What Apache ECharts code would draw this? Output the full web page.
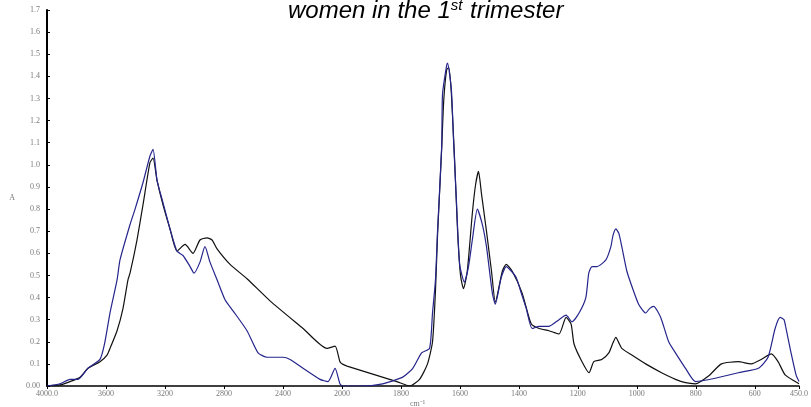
<!DOCTYPE html>
<html>
<head>
<meta charset="utf-8">
<script src="https://cdn.jsdelivr.net/npm/echarts@6/dist/echarts.min.js"></script>
<style>
html,body{margin:0;padding:0;background:#fff;}
#chart{width:811px;height:407px;}
</style>
</head>
<body>
<div id="chart"></div>
<script>
// Wavenumbers (cm-1) and absorbance values
const blackWavenumber = [4000,3912,3844,3776,3722,3641,3593,3573,3525,3485,3451,3437,3390,3349,3302,3281,3254,3214,3166,3119,3064,3010,2963,2915,2881,2847,2759,2644,2488,2264,2102,2047,2014,2000,
  1983,1814,1770,1737,1710,1693,1683,1676,1662,1655,1645,1638,1629,1618,1608,1598,1588,1575,1558,1547,1537,1527,1510,1493,1480,1456,1443,1423,1389,1358,1331,1298,1264,1240,1223,1213,1186,1162,1146,1119,1095,1081,1071,1061,1051,1017,970,916,869,835,801,757,713,656,612,578,544,521,497,463,450];
const blackAbs = [0,0.005,0.02,0.04,0.08,0.11,0.14,0.17,0.25,0.35,0.48,0.51,0.66,0.82,1.01,1.03,0.93,0.82,0.71,0.61,0.64,0.60,0.66,0.67,0.66,0.62,0.55,0.485,0.385,0.26,0.17,0.18,0.11,0.10,
  0.09,0.02,0,0.03,0.10,0.20,0.43,0.68,1.07,1.29,1.43,1.44,1.32,1.02,0.70,0.50,0.44,0.52,0.78,0.91,0.97,0.87,0.70,0.52,0.38,0.52,0.55,0.52,0.42,0.28,0.26,0.25,0.235,0.31,0.28,0.19,0.11,0.06,0.11,0.12,0.15,0.195,0.22,0.195,0.17,0.14,0.10,0.06,0.03,0.015,0.01,0.045,0.10,0.11,0.10,0.12,0.145,0.11,0.05,0.02,0.01];
const blueWavenumber = [4000,3912,3844,3790,3722,3641,3610,3573,3525,3505,3437,3403,3349,3302,3281,3254,3214,3166,3119,3078,3030,3003,2963,2929,2895,2847,2793,2739,2644,2569,2508,2447,2400,2352,2264,2149,2095,2047,2014,2000,
  1939,1862,1794,1760,1730,1703,1693,1683,1676,1662,1659,1645,1642,1629,1622,1612,1601,1585,1571,1558,1541,1524,1510,1490,1480,1460,1443,1426,1409,1392,1375,1355,1331,1298,1264,1240,1220,1196,1173,1163,1152,1135,1105,1088,1081,1071,1061,1051,1034,1014,994,970,957,943,919,892,869,835,801,734,656,588,555,531,514,501,494,477,460,450];
const blueAbs = [0,0.01,0.03,0.03,0.08,0.12,0.19,0.33,0.48,0.57,0.73,0.80,0.92,1.04,1.07,0.93,0.83,0.71,0.61,0.59,0.54,0.51,0.56,0.63,0.56,0.48,0.39,0.34,0.25,0.15,0.13,0.13,0.13,0.12,0.08,0.03,0.02,0.08,0.01,0,
  0,0.01,0.04,0.08,0.15,0.17,0.33,0.48,0.70,1.08,1.32,1.45,1.46,1.34,1.12,0.84,0.55,0.47,0.54,0.66,0.80,0.73,0.63,0.42,0.37,0.49,0.54,0.52,0.49,0.42,0.35,0.26,0.27,0.27,0.30,0.32,0.29,0.33,0.40,0.51,0.54,0.54,0.57,0.63,0.68,0.71,0.69,0.63,0.52,0.44,0.37,0.33,0.35,0.36,0.31,0.20,0.15,0.08,0.02,0.035,0.06,0.08,0.13,0.26,0.31,0.30,0.26,0.15,0.05,0.02];
const leftTicks = [4000,3600,3200,2800,2400,2000];
const rightTicks = [1800,1600,1400,1200,1000,800,600,450];
const titleParts = ['women in the 1', 'st', ' trimester'];
const yAxisName = 'A';
const xAxisName = 'cm\u207B\u00B9';

function pairs(wn, ab, lo, hi) {
  const out = [];
  for (let i = 0; i < wn.length; i++) {
    if (wn[i] >= lo && wn[i] <= hi) out.push([wn[i], ab[i]]);
  }
  return out;
}

const labelStyle = {fontFamily: 'Liberation Serif', fontSize: 8, color: '#7a7a7a'};
const fmtX = v => (v === 4000 || v === 450) ? v.toFixed(1) : String(v);

const chart = echarts.init(document.getElementById('chart'), null, {renderer: 'canvas'});
const blue = '#25258c';
const black = '#111111';
const lineCommon = {type: 'line', showSymbol: false, symbol: 'none', smooth: 0.2, animation: false};

chart.setOption({
  animation: false,
  backgroundColor: '#ffffff',
  title: {
    left: 283, top: -7,
    text: '{a|' + titleParts[0] + '}{b|' + titleParts[1] + '}{a|' + titleParts[2] + '}',
    textStyle: {
      fontWeight: 'normal',
      rich: {
        a: {fontFamily: 'Liberation Sans', fontStyle: 'italic', fontWeight: 'normal', fontSize: 24, color: '#000', lineHeight: 27},
        b: {fontFamily: 'Liberation Sans', fontStyle: 'italic', fontWeight: 'normal', fontSize: 15, color: '#000', lineHeight: 27, verticalAlign: 'top', padding: [0, 1, 12, 0]}
      }
    }
  },
  graphic: [{
    type: 'text', left: 410, top: 400,
    style: {text: xAxisName, fontFamily: 'Liberation Serif', fontSize: 8, fill: '#7a7a7a'}
  }],
  grid: [
    {left: 47, width: 295, top: 10, bottom: 21},
    {left: 342, width: 459, top: 10, bottom: 21}
  ],
  xAxis: [
    {
      gridIndex: 0, type: 'value', min: 2000, max: 4000, interval: 400, inverse: true,
      splitLine: {show: false},
      axisLine: {lineStyle: {color: '#000', width: 1.5}},
      axisTick: {length: 3, lineStyle: {color: '#000'}},
      axisLabel: Object.assign({margin: 4, formatter: fmtX, showMinLabel: true, showMaxLabel: true}, labelStyle)
    },
    {
      gridIndex: 1, type: 'value', min: 450, max: 2000, inverse: true,
      splitLine: {show: false},
      axisLine: {lineStyle: {color: '#000', width: 1.5}},
      axisTick: {length: 3, lineStyle: {color: '#000'}, customValues: rightTicks},
      axisLabel: Object.assign({margin: 4, formatter: fmtX, customValues: rightTicks}, labelStyle)
    }
  ],
  yAxis: [
    {
      gridIndex: 0, type: 'value', min: 0, max: 1.7, interval: 0.1,
      name: yAxisName, nameLocation: 'middle', nameRotate: 0, nameGap: 32,
      nameTextStyle: labelStyle,
      splitLine: {show: false},
      axisLine: {show: true, lineStyle: {color: '#000', width: 2}},
      axisTick: {show: true, inside: true, length: 3, lineStyle: {color: '#000'}},
      axisLabel: Object.assign({margin: 7, formatter: v => v === 0 ? '0.00' : v.toFixed(1)}, labelStyle)
    },
    {
      gridIndex: 1, type: 'value', min: 0, max: 1.7, show: false
    }
  ],
  series: [
    Object.assign({}, lineCommon, {name: 'black-hi', xAxisIndex: 0, yAxisIndex: 0, data: pairs(blackWavenumber, blackAbs, 2000, 4000), lineStyle: {color: black, width: 1.2}}),
    Object.assign({}, lineCommon, {name: 'black-lo', xAxisIndex: 1, yAxisIndex: 1, data: pairs(blackWavenumber, blackAbs, 0, 2000), lineStyle: {color: black, width: 1.2}}),
    Object.assign({}, lineCommon, {name: 'blue-hi', xAxisIndex: 0, yAxisIndex: 0, data: pairs(blueWavenumber, blueAbs, 2000, 4000), lineStyle: {color: blue, width: 1.2}}),
    Object.assign({}, lineCommon, {name: 'blue-lo', xAxisIndex: 1, yAxisIndex: 1, data: pairs(blueWavenumber, blueAbs, 0, 2000), lineStyle: {color: blue, width: 1.2}})
  ]
});
</script>
</body>
</html>
